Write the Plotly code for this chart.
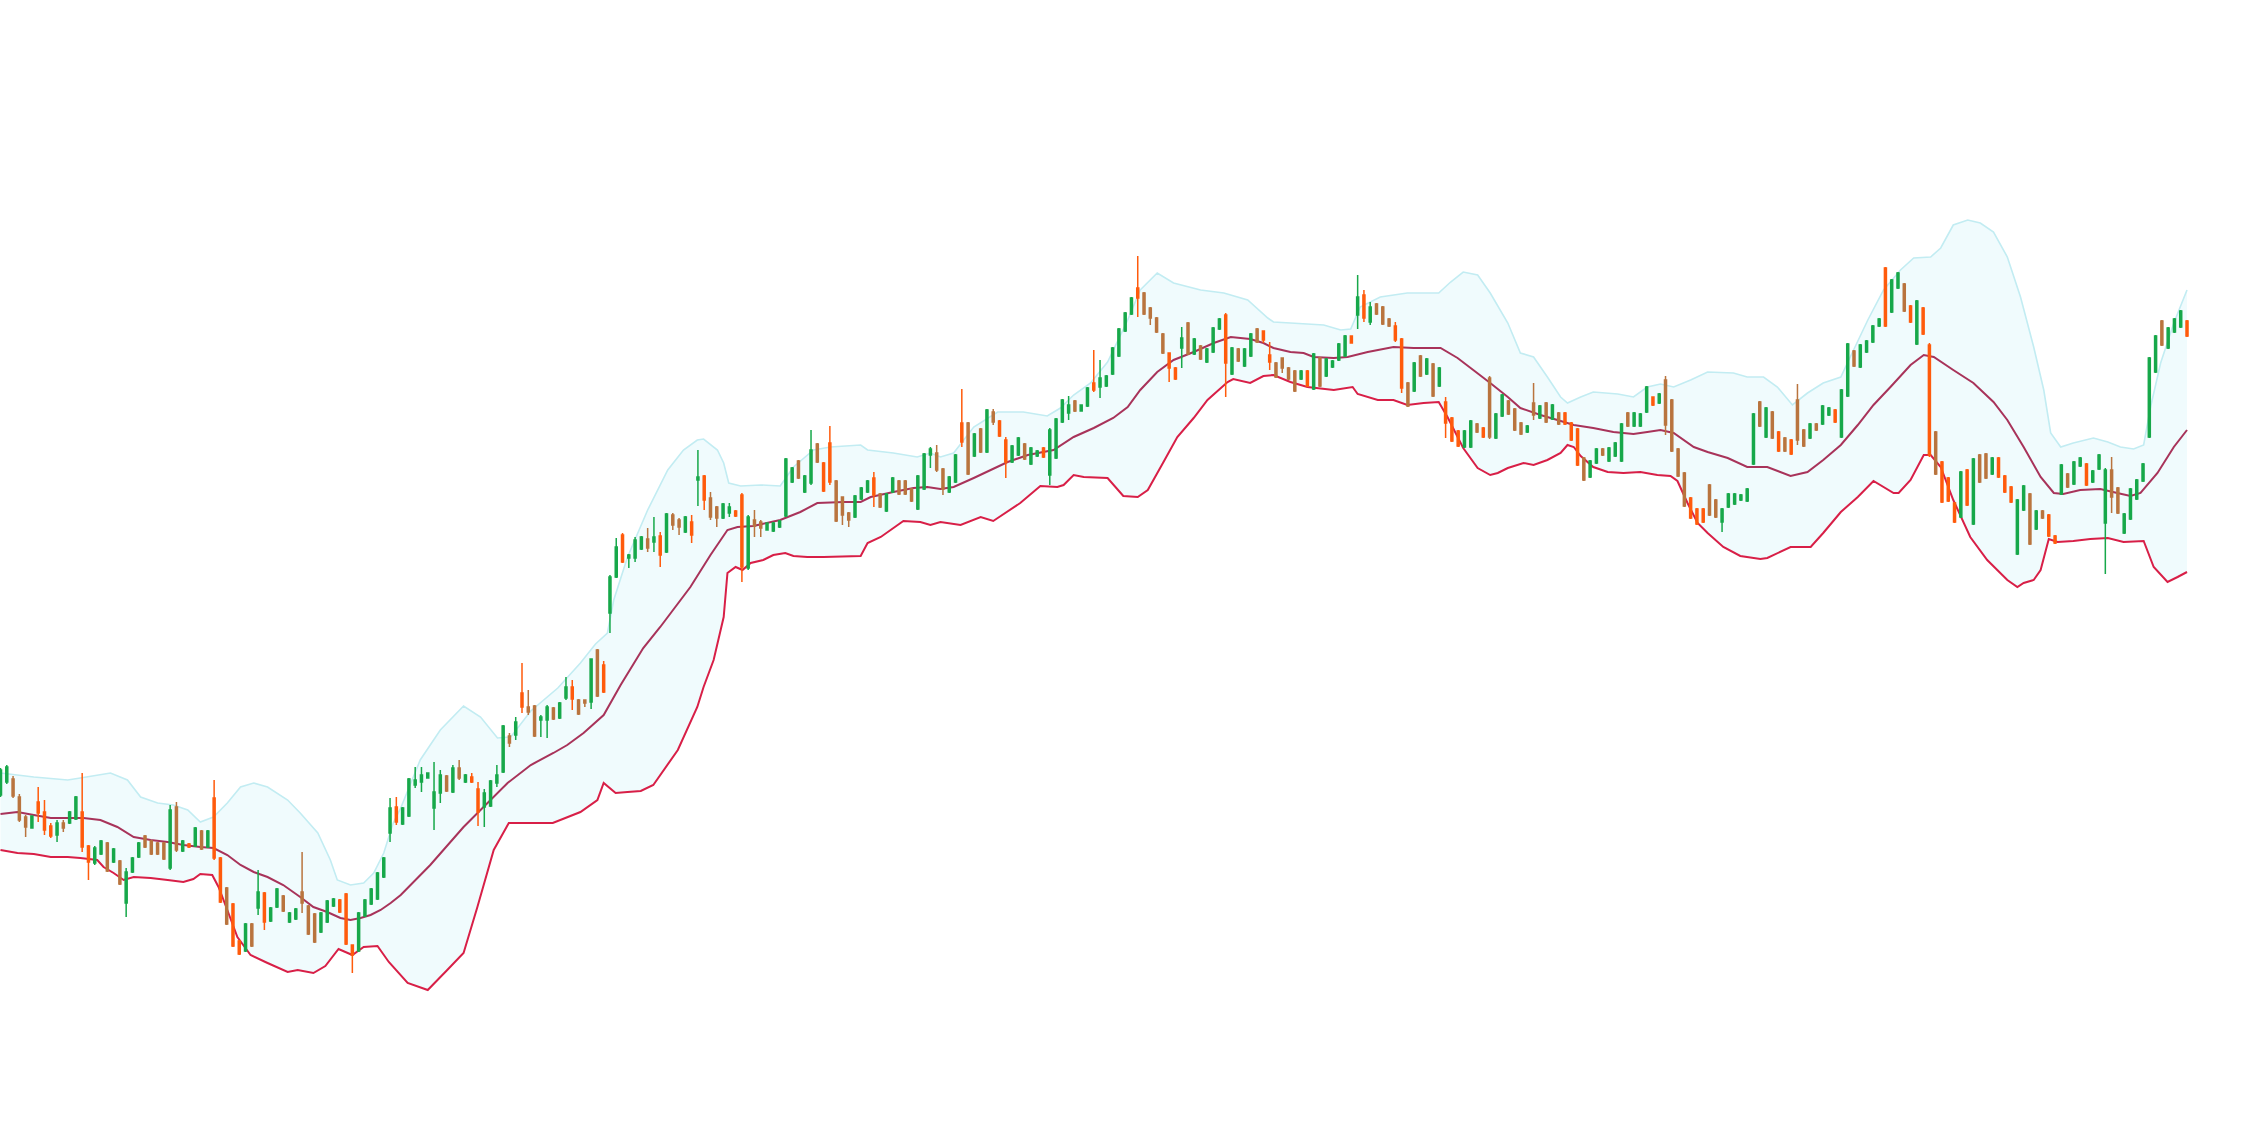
import plotly.graph_objects as go

# ---- candle data (price units) ----
opens = [
405,418,421,403,383,372,398,388,374,365,
377,377,381,388,354,337,346,357,338,339,
297,328,343,364,359,357,357,332,393,349,
356,354,369,353,402,342,312,296,259,249,
276,292,307,279,293,304,278,281,308,294,
286,268,278,294,300,306,255,249,284,296,
301,323,367,393,376,384,415,418,422,392,
407,424,408,432,418,423,411,393,394,417,
428,464,465,507,493,494,480,480,492,482,
502,513,500,500,498,550,535,587,623,665,
642,642,651,661,658,664,648,685,680,668,
678,720,724,702,693,682,687,689,705,632,
680,678,670,669,673,684,718,739,708,717,
756,737,757,719,703,687,683,701,708,722,
706,689,708,719,719,711,691,711,745,747,
731,708,718,777,777,744,771,748,788,779,
760,738,745,756,736,744,752,725,742,778,
787,799,789,794,817,813,814,826,844,869,
886,912,907,892,882,866,847,832,852,877,
846,854,838,848,871,885,826,851,834,844,
871,869,845,837,842,832,829,821,829,811,
842,824,833,840,844,864,885,905,878,896,
893,881,874,861,817,809,844,826,836,814,
798,782,769,753,753,776,772,822,762,784,
799,791,777,768,797,782,797,781,787,787,
777,771,742,723,737,751,739,744,739,787,
774,774,788,803,797,820,800,751,727,702,
691,691,715,700,678,693,696,700,699,736,
798,763,788,768,762,760,800,770,762,776,
776,785,790,763,804,849,833,848,858,874,
932,888,912,916,894,856,892,855,768,738,
722,697,683,730,676,745,746,726,742,724,
713,646,690,706,671,689,685,664,706,726,
716,734,736,718,731,677,730,712,667,681,
701,719,763,828,879,852,868,873,879]

highs = [
432,435,424,406,385,384,413,400,377,380,
380,389,404,427,355,354,360,358,352,340,
332,343,358,365,360,358,358,395,398,360,
357,373,370,370,420,343,313,297,260,277,
277,330,308,293,312,305,288,292,348,295,
287,288,300,302,301,307,255,288,301,312,
328,343,402,403,393,422,433,433,427,438,
430,425,435,440,426,427,418,411,420,435,
475,467,483,537,510,495,485,495,493,498,
523,520,501,500,541,551,539,625,662,667,
646,663,664,672,683,668,687,687,682,684,
685,750,725,708,694,697,697,690,707,685,
690,680,677,678,680,742,733,740,725,770,
757,738,774,720,703,688,705,713,720,728,
707,707,723,720,720,712,725,747,753,755,
732,724,746,811,778,767,772,791,791,780,
763,755,763,757,753,750,753,772,782,801,
804,800,795,813,850,840,825,853,872,888,
903,944,908,893,883,867,847,833,873,878,
862,855,852,873,882,887,853,852,852,867,
872,869,858,838,842,833,830,830,830,847,
843,842,840,857,865,864,925,910,898,897,
894,882,878,862,818,838,845,842,837,833,
803,783,770,770,780,777,773,824,787,806,
800,792,778,775,817,795,798,796,788,788,
778,772,743,740,752,752,753,758,777,788,
788,787,814,803,807,824,801,752,728,703,
692,692,716,701,692,707,707,706,712,787,
799,793,789,769,763,761,816,771,777,777,
795,793,791,811,857,850,856,860,875,882,
933,921,928,917,895,900,893,857,769,739,
723,698,729,731,742,746,747,743,743,725,
714,701,715,707,690,690,686,665,736,727,
739,743,737,730,746,732,743,713,687,712,
721,737,843,865,880,873,882,890,880]

lows = [
403,416,402,378,363,372,378,365,362,358,
368,376,380,348,320,335,345,328,337,315,
283,327,342,352,345,345,340,330,348,348,
352,353,350,352,340,297,275,253,245,248,
253,285,270,278,292,288,277,280,287,265,
257,267,277,293,287,255,227,248,283,295,
300,322,358,375,375,383,412,408,422,370,
397,408,407,420,417,417,374,373,393,413,
427,453,460,487,485,463,463,462,480,481,
500,490,485,493,491,503,507,567,622,637,
632,638,650,648,648,633,647,670,665,667,
657,694,690,680,673,681,683,683,618,630,
663,663,670,668,672,683,717,721,707,715,
737,708,715,678,675,673,682,700,707,693,
692,688,707,705,705,698,690,710,732,728,
705,707,717,753,725,743,747,747,775,763,
722,737,744,740,735,743,742,715,741,777,
780,788,789,793,808,802,813,825,843,868,
885,883,885,875,867,846,818,820,832,845,
845,840,837,847,870,803,825,838,833,843,
857,857,830,822,827,820,808,820,813,810,
813,823,832,839,843,857,871,878,875,885,
875,873,858,807,793,808,823,825,803,813,
762,758,753,752,752,767,762,761,761,783,
785,769,765,767,780,781,777,780,775,775,
759,734,719,722,736,744,738,743,738,773,
773,773,787,794,796,765,748,723,693,681,
675,677,684,682,668,692,695,699,698,735,
773,762,761,748,748,745,755,753,761,769,
775,784,777,762,803,833,832,847,857,873,
873,887,911,888,877,855,865,743,725,697,
698,677,682,694,675,717,721,725,722,707,
697,645,689,655,670,681,663,656,705,712,
715,733,714,717,730,626,687,686,666,680,
700,718,762,827,854,851,867,872,863]

closes = [
430,433,404,380,373,384,387,370,364,377,
372,388,403,353,338,352,359,329,351,316,
328,342,357,353,346,346,341,390,350,359,
353,372,351,369,342,298,276,254,246,276,
254,308,278,292,311,289,287,291,297,266,
258,287,299,301,288,256,245,287,300,311,
327,342,392,378,392,421,420,425,427,408,
425,409,432,422,425,418,388,407,419,425,
474,457,478,493,488,464,483,493,481,497,
513,501,486,497,541,504,508,623,653,638,
645,660,663,652,663,645,686,675,673,683,
665,723,700,683,682,696,693,684,633,683,
674,672,677,677,679,741,732,722,724,750,
738,709,718,679,685,680,704,712,719,705,
693,706,722,706,706,699,724,746,751,730,
711,723,745,758,726,766,748,790,778,764,
738,754,762,741,752,749,743,770,781,800,
795,789,795,812,810,822,824,852,871,887,
902,902,886,882,868,847,832,821,862,846,
861,841,851,872,881,837,852,839,851,866,
858,860,838,823,832,821,809,829,814,846,
814,841,839,856,864,857,903,882,893,886,
876,874,860,812,794,837,824,841,804,832,
777,759,754,769,779,768,763,763,786,805,
786,770,766,774,785,794,778,795,776,776,
760,735,720,739,751,745,752,757,776,774,
787,786,813,795,806,775,749,724,694,682,
676,678,685,683,691,706,706,705,711,786,
774,792,762,749,749,746,760,754,776,770,
794,792,778,810,856,834,855,859,874,881,
874,920,927,889,878,899,866,745,726,698,
699,678,728,695,741,718,722,742,723,708,
698,700,714,656,689,682,664,657,735,713,
738,742,715,729,745,730,703,687,686,711,
720,736,842,864,855,872,881,889,864]

# candle colour class per bar: G = green, O = orange, B = brown
tones = "".join([
"GGBBBGOOOG","BGGOOGGBGB","GGGBBBBGBG","OGBGOOBOOG","BGOGGBGGBB",
"BGGGOOOGGG","GGGOGGGGGG","GBGBGOOGGG","GBGOBBGGBG","GOBBGBOGGO",
"GGGBGOGBBG","OGOBBGGOOG","BBGGGGGBGG","BOOBBBGGGO","BGGBBBGGGB",
"BGGOBGBGBO","OGGBGGOGGG","GBGGOGGGGG","GOBBBBOOGB","GBGGGOGBGG",
"BOOBBBBGOG","BGGGGOGOGB","BBOOBGBGBG","OOOGGBOBGG","BBBGBGBGBO",
"OOBGGBGGGB","GGGOGBBBBO","OOBBGGGGGG","BGBOBOBBGB","GGOGGBGGGG",
"OGGBOGOOBO","OOGOGBBGOO","OGGBGBOOGB","GGOGGGBBGG","GGGGBGGGO"])

# ---- Bollinger band lines (bar index, price) ----
upper_x = [0,5.3,10.7,12.7,17.5,20.2,22.3,25,27.5,29.8,
31.8,33.9,36.1,38.2,40.3,42.5,45.7,47.7,50.5,52.5,
53.6,55.7,57.8,59.4,61,62.5,63.7,66.8,70,73.7,
76.4,79.1,81.2,84.4,88.7,92.3,94.7,96.6,97.6,99.8,
103,106.2,108.7,110.9,111.9,114.1,115.1,115.9,117.8,121,
124.1,126.2,129.4,132.1,136.9,138,142.1,145.9,148,149.6,
151.7,154.9,158.7,162.8,166.6,168.7,170.8,173.5,176.2,179.4,
181.4,184.1,186.7,191,194.7,198.5,201.7,202.6,205.3,210.6,
213.3,214.9,216.4,219.6,223.9,228.9,230.8,232.8,235.1,237.1,
239.9,241.9,244,246.2,248.3,249.4,251.5,253.5,257.4,259.9,
262.1,264.2,266.3,269,271.7,275.8,278,280.6,282.8,285.2,
287.6,290.1,292.9,294.4,297.2,299.7,302.4,304.5,307.2,308.8,
310.8,313.1,315.1,317.2,319.4,321.5,323.6,325.2,326.3,327.9,
329.9,333.1,335.4,337.4,339.5,341.1,342.2,343.8,345.9,348]
upper_v = [427,423,420,422,427,420,403,397,395,390,
378,383,397,413,417,413,400,387,367,340,
320,315,317,327,347,377,392,440,470,494,
483,462,463,489,512,537,556,567,600,643,
690,730,750,760,761,750,737,717,714,715,
714,733,750,753,755,750,747,743,747,743,
747,773,788,788,784,792,805,817,838,880,
910,927,917,910,907,900,882,878,877,875,
870,871,893,903,907,907,918,928,925,907,
877,847,843,823,803,797,803,808,806,803,
813,816,813,820,828,827,823,823,813,795,
807,817,823,843,880,910,930,942,943,952,
975,980,977,968,943,903,853,810,767,753,
757,762,758,753,751,755,793,837,877,910]

mid_x = [0,2.7,5.3,8,10.7,13.2,15.9,18.6,21.2,23.9,
26.6,29.1,31.8,33.9,36.1,38.2,40.3,42.5,45,47.7,
49.8,52,54.1,55.7,57.3,58.9,60.5,62.1,63.7,68.4,
73.7,76.4,80.7,84.4,88,90.2,92.8,96,98.7,102.3,
105,109.8,113,115.7,117.3,119.8,124.1,127.3,130,134.2,
136.9,138.5,142.1,145.3,147.5,149.6,151.7,154.9,157.6,160.3,
163.5,167.6,170.8,174,177.1,179.4,181.4,184.1,186.7,189.9,
193.1,195.8,198.9,201,202.6,205.3,207.4,209,212.2,214.4,
217.6,221.7,224.9,229.2,231.9,234.4,237.1,239.9,241.9,245.1,
247.8,250.4,253.5,256.7,259.9,262.1,264.2,266.3,269.5,271.7,
274.9,278,281.2,284.9,287.6,290.1,292.9,295.6,298.1,300.8,
304,306.1,307.7,310.8,314,317.2,319.4,322,324.7,326.8,
328.3,331,334.2,336.9,339,340.6,343.3,345.9,348]
mid_v = [386,388,385,382,382,382,380,373,363,360,
358,355,353,352,345,335,328,323,315,303,
293,288,282,280,282,285,290,297,305,335,
373,390,417,435,447,455,467,485,515,552,
573,613,645,670,673,674,680,688,697,698,
698,703,708,712,713,711,713,722,730,738,
745,750,763,772,782,793,810,828,840,848,
857,863,861,857,852,848,847,843,842,843,
848,853,852,852,842,830,817,803,792,785,
780,775,772,768,766,768,770,767,753,748,
742,733,733,724,728,740,755,775,795,813,
835,845,843,830,817,798,780,753,723,707,
706,710,711,707,704,707,727,753,770]

lower_x = [0,2.7,5.3,8,10.7,12.7,15.4,16.4,18,19.6,
21.2,23.9,26.6,29.1,30.7,31.8,33.7,34.7,36.1,37.7,
39.8,42.5,45.7,47.3,49.8,51.7,53.8,56,57.8,60,
61.8,64.8,68,71.1,73.7,75.9,78.5,80.9,84.4,87.9,
89.9,92.3,95,96,97.9,99.8,101.9,103.9,107.8,110.9,
111.9,113.5,115.1,115.7,117,118.1,119.4,121.4,123,124.9,
126.2,128.4,131,136.9,138,140.1,143.7,146.4,148,149.6,
152.8,156,158,162.3,165.5,168.2,169.2,170.8,172.4,176.2,
178.7,181,182.6,185.1,187.3,189.9,192.1,195.3,196.2,198.9,
201,202.6,205.3,208,212.2,215.2,216,219.2,221.7,223.9,
226.5,228.9,230.3,232.8,235.1,237.1,238.3,239.9,242.4,244,
246.2,248.3,249.4,250.4,251.5,253.5,255.8,258.3,261,263.7,
265.8,266.9,268.5,270.1,271.7,274.2,276.9,280.1,281.2,284.9,
288.1,290.1,292.9,295.6,298.1,301.3,302.1,304,306.1,307.2,
308.8,310.8,313.5,316.2,319.4,321,322,323.6,324.7,326,
327.4,329.9,332.6,335.4,337.9,341.1,342.7,344.9,346.5,348]
lower_v = [350,347,346,343,343,342,340,333,327,320,
323,322,320,318,321,326,325,313,290,263,
245,237,228,230,227,234,251,245,253,254,
238,217,210,230,247,293,350,377,377,377,
382,388,400,417,407,408,409,415,450,493,
513,540,583,627,633,630,637,640,645,647,
644,643,643,644,657,663,679,678,675,678,
675,683,679,697,714,713,715,725,723,722,
704,703,710,738,763,782,800,818,821,817,
824,825,818,813,810,813,806,800,800,795,
797,798,783,752,732,725,727,732,737,735,
740,747,755,753,744,733,728,727,728,725,
724,719,697,677,667,653,644,641,642,653,
653,667,688,703,719,707,707,720,745,745,
733,700,663,640,620,613,617,620,630,661,
658,659,661,662,658,659,633,618,623,628]

assert len(opens) == len(highs) == len(lows) == len(closes) == len(tones)
assert len(upper_x) == len(upper_v) and len(mid_x) == len(mid_v) and len(lower_x) == len(lower_v)

xs = list(range(len(opens)))

palette = {"G": "#17a84a", "O": "#ff5b0c", "B": "#b9743e"}
band_fill = "#f0fbfd"
upper_col = "#c2ecf2"
mid_col = "#a8335a"
lower_col = "#d81f47"


def path_of(px, py, close=False):
    pts = " L ".join(f"{a},{b}" for a, b in zip(px, py))
    return "M " + pts + (" Z" if close else "")


fig = go.Figure()

# band fill and band lines as data-referenced shapes drawn beneath the candles
fig.add_shape(type="path", xref="x", yref="y", layer="below",
              path=path_of(lower_x + upper_x[::-1], lower_v + upper_v[::-1], close=True),
              fillcolor=band_fill, line=dict(width=0))
for bx, bv, col, w in [(upper_x, upper_v, upper_col, 1.6),
                       (mid_x, mid_v, mid_col, 2.0),
                       (lower_x, lower_v, lower_col, 2.0)]:
    fig.add_shape(type="path", xref="x", yref="y", layer="below",
                  path=path_of(bx, bv), fillcolor="rgba(0,0,0,0)",
                  line=dict(color=col, width=w))

# candles, one trace per colour class
for code, col in palette.items():
    sel = [i for i, t in enumerate(tones) if t == code]
    fig.add_trace(go.Candlestick(
        x=[xs[i] for i in sel],
        open=[opens[i] for i in sel],
        high=[highs[i] for i in sel],
        low=[lows[i] for i in sel],
        close=[closes[i] for i in sel],
        increasing=dict(line=dict(color=col, width=1.5), fillcolor=col),
        decreasing=dict(line=dict(color=col, width=1.5), fillcolor=col),
        whiskerwidth=0,
    ))

fig.update_layout(
    width=2268, height=1148, autosize=False,
    margin=dict(l=0, r=0, t=0, b=0),
    paper_bgcolor="white", plot_bgcolor="white",
    showlegend=False,
    boxgap=0.68, boxgroupgap=0,
    xaxis=dict(visible=False, range=[-0.08, 360.89], rangeslider=dict(visible=False)),
    yaxis=dict(visible=False, range=[52, 1200]),
)

fig.write_html("out.html",
               config={"displayModeBar": False},
               post_script="document.body.style.margin='0';document.body.style.overflow='hidden';")
